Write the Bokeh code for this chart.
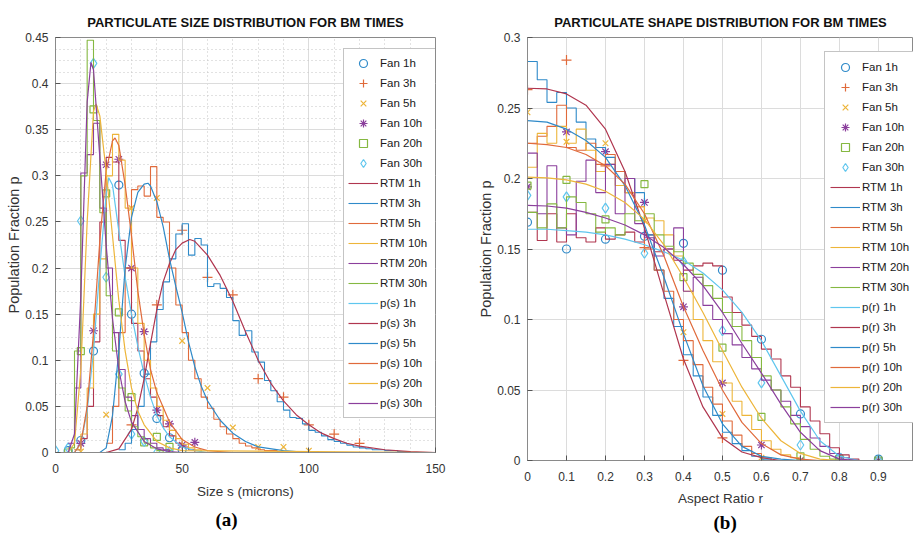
import numpy as np
from bokeh.plotting import figure
from bokeh.layouts import row, column
from bokeh.models import FixedTicker, CustomJSTickFormatter, Legend, LegendItem, Title
from bokeh.embed import file_html
from bokeh.resources import INLINE

TIMES = ["1h", "3h", "5h", "10h", "20h", "30h"]

# MATLAB default colour order (slightly washed, as in the picture)
C = ["#2F8AC9", "#E06A3B", "#EDB53A", "#8B3F9C", "#85B841", "#5FC6EE", "#B0364F"]
FAN_MARKERS = ["circle", "cross", "x", "asterisk", "square", "diamond"]
FAN_SIZES = [8, 10, 8, 9, 7, 10]
FAN_COLORS = [C[0], C[1], C[2], C[3], C[4], C[5]]
RTM_COLORS = [C[6], C[0], C[1], C[2], C[3], C[4]]
CURVE_COLORS = [C[5], C[6], C[0], C[1], C[2], C[3]]

# ---------------- (a) size distribution ----------------
FAN_S_X = [
    [5, 10, 15, 25, 30, 35, 40, 45, 50],
    [30, 40, 50, 60, 70, 80, 90, 100, 110, 120],
    [10, 20, 30, 40, 50, 60, 70, 80, 90, 100],
    [10, 15, 20, 25, 30, 35, 40, 45, 50, 55],
    [5, 10, 15, 20, 25, 30, 35, 40, 45],
    [0, 5, 10, 15, 20, 25, 30, 35, 40, 45],
]
FAN_S_Y = [
    [0.002, 0.013, 0.11, 0.29, 0.15, 0.086, 0.037, 0.016, 0.003],
    [0.03, 0.16, 0.241, 0.19, 0.171, 0.08, 0.06, 0.03, 0.02, 0.01],
    [0.001, 0.041, 0.265, 0.276, 0.121, 0.07, 0.027, 0.006, 0.006, 0.002],
    [0.01, 0.132, 0.312, 0.318, 0.2, 0.131, 0.046, 0.031, 0.008, 0.011],
    [0.0, 0.11, 0.372, 0.281, 0.152, 0.06, 0.011, 0.017, 0.006],
    [0.002, 0.005, 0.251, 0.422, 0.19, 0.085, 0.02, 0.012, 0.0, 0.001],
]
RTM_S_BIN = 2.5
RTM_S_START = [7.5, 25, 20, 7.5, 5, 5]
RTM_S_VALS = [
    [0.003, 0.015, 0.05, 0.12, 0.25, 0.32, 0.315, 0.23, 0.2, 0.14, 0.11, 0.08, 0.06, 0.04,
     0.028, 0.018, 0.01, 0.006, 0.003, 0.0],
    [0.003, 0.01, 0.025, 0.05, 0.085, 0.12, 0.155, 0.185, 0.21, 0.237, 0.248, 0.214, 0.232,
     0.225, 0.18, 0.183, 0.178, 0.168, 0.143, 0.127, 0.132, 0.109, 0.098, 0.078, 0.067, 0.055,
     0.046, 0.038, 0.037, 0.031, 0.024, 0.022, 0.018, 0.014, 0.012, 0.01, 0.008, 0.006, 0.005,
     0.004, 0.003, 0.003, 0.002, 0.002, 0.001, 0.001, 0.0],
    [0.01, 0.05, 0.13, 0.2, 0.285, 0.289, 0.278, 0.31, 0.255, 0.25, 0.2, 0.16, 0.13, 0.1, 0.08,
     0.06, 0.048, 0.036, 0.028, 0.02, 0.015, 0.01, 0.007, 0.005, 0.003, 0.002, 0.002, 0.001, 0.0],
    [0.003, 0.02, 0.07, 0.15, 0.21, 0.3, 0.345, 0.317, 0.265, 0.2, 0.14, 0.1, 0.07, 0.05, 0.035,
     0.024, 0.015, 0.009, 0.005, 0.003, 0.0],
    [0.01, 0.07, 0.303, 0.323, 0.357, 0.265, 0.2, 0.13, 0.09, 0.06, 0.04, 0.025, 0.015, 0.01,
     0.005, 0.003, 0.0],
    [0.005, 0.11, 0.3, 0.447, 0.36, 0.26, 0.17, 0.11, 0.07, 0.045, 0.028, 0.017, 0.01, 0.005,
     0.002, 0.0],
]
PS_X = [
    [0, 7.5, 10, 12.5, 15, 17.5, 20, 21, 22.5, 25, 27.5, 30, 32.5, 35, 37.5, 40, 42.5, 45, 50, 55, 60, 150],
    [0, 20, 25, 30, 32.5, 35, 37.5, 40, 42.5, 45, 47.5, 50, 53, 55, 60, 65, 70, 75, 80, 85, 90, 95,
     100, 105, 110, 115, 120, 130, 140, 150],
    [0, 17.5, 20, 22.5, 25, 27.5, 30, 32.5, 35, 36.5, 37.5, 40, 42.5, 45, 47.5, 50, 52.5, 55, 57.5,
     60, 65, 70, 75, 80, 90, 100, 150],
    [0, 7.5, 10, 12.5, 15, 17.5, 20, 22.5, 23.5, 25, 27.5, 30, 32.5, 35, 37.5, 40, 45, 50, 55, 60, 70, 150],
    [0, 5, 7.5, 10, 12.5, 15, 16, 17.5, 20, 22.5, 25, 27.5, 30, 32.5, 35, 40, 45, 50, 150],
    [0, 5, 7.5, 10, 12.5, 14, 15, 17.5, 20, 22.5, 25, 27.5, 30, 35, 40, 45, 50, 150],
]
PS_Y = [
    [0, 0.0, 0.01, 0.045, 0.11, 0.2, 0.28, 0.298, 0.29, 0.24, 0.19, 0.15, 0.115, 0.085, 0.06,
     0.04, 0.027, 0.017, 0.006, 0.002, 0.0, 0.0],
    [0, 0.0, 0.004, 0.025, 0.048, 0.08, 0.118, 0.155, 0.185, 0.205, 0.22, 0.227, 0.231, 0.229,
     0.214, 0.192, 0.164, 0.131, 0.1, 0.075, 0.056, 0.041, 0.03, 0.021, 0.015, 0.01, 0.007,
     0.003, 0.001, 0.0],
    [0, 0.0, 0.005, 0.04, 0.11, 0.2, 0.255, 0.282, 0.291, 0.292, 0.289, 0.272, 0.245, 0.21, 0.18,
     0.152, 0.12, 0.093, 0.072, 0.056, 0.035, 0.021, 0.012, 0.006, 0.002, 0.0, 0.0],
    [0, 0.0, 0.01, 0.05, 0.13, 0.23, 0.305, 0.338, 0.341, 0.333, 0.29, 0.235, 0.175, 0.128, 0.09,
     0.065, 0.033, 0.014, 0.006, 0.002, 0.0, 0.0],
    [0, 0.0, 0.01, 0.09, 0.25, 0.37, 0.378, 0.365, 0.305, 0.235, 0.165, 0.11, 0.07, 0.045, 0.03,
     0.012, 0.005, 0.002, 0.0],
    [0, 0.0, 0.02, 0.17, 0.38, 0.423, 0.415, 0.32, 0.225, 0.145, 0.09, 0.055, 0.033, 0.012,
     0.004, 0.001, 0.0, 0.0],
]
SIZE_X_TICKS = [0, 50, 100, 150]
SIZE_X_MINOR = [10, 20, 30, 40, 60, 70, 80, 90, 110, 120, 130, 140]
SIZE_Y_TICKS = [0, 0.05, 0.1, 0.15, 0.2, 0.25, 0.3, 0.35, 0.4, 0.45]

# ---------------- (b) shape distribution ----------------
FAN_R_X = [0, 0.1, 0.2, 0.3, 0.4, 0.5, 0.6, 0.7, 0.8, 0.9]
FAN_R_Y = [
    [0.169, 0.150, 0.157, 0.159, 0.154, 0.135, 0.086, 0.033, 0.002, 0.001],
    [0.263, 0.284, 0.209, 0.151, 0.071, 0.016, 0.0, 0.0, 0.0, 0.0],
    [0.247, 0.226, 0.225, 0.17, 0.091, 0.033, 0.002, 0.0, 0.0, 0.0],
    [0.194, 0.233, 0.219, 0.183, 0.109, 0.055, 0.011, 0.0, 0.0, 0.0],
    [0.195, 0.199, 0.171, 0.196, 0.13, 0.080, 0.031, 0.003, 0.001, 0.0],
    [0.188, 0.187, 0.179, 0.147, 0.141, 0.092, 0.055, 0.011, 0.002, 0.0],
]
RTM_R_BIN = 0.025
RTM_R_START = [0, 0, 0, 0, 0, 0]
RTM_R_VALS = [
    [0.176, 0.156, 0.175, 0.155, 0.175, 0.158, 0.155, 0.165, 0.157, 0.16, 0.162, 0.155, 0.16,
     0.148, 0.15, 0.142, 0.135, 0.138, 0.14, 0.138, 0.116, 0.105, 0.096, 0.088, 0.079, 0.072,
     0.06, 0.052, 0.038, 0.028, 0.019, 0.009, 0.004, 0.001, 0.0],
    [0.283, 0.27, 0.254, 0.261, 0.25, 0.24, 0.228, 0.222, 0.215, 0.205, 0.2, 0.19, 0.16, 0.135,
     0.115, 0.095, 0.075, 0.06, 0.045, 0.032, 0.02, 0.012, 0.007, 0.003, 0.001, 0.0],
    [0.225, 0.23, 0.237, 0.252, 0.222, 0.22, 0.225, 0.21, 0.217, 0.205, 0.19, 0.18, 0.15, 0.135,
     0.12, 0.1, 0.085, 0.068, 0.052, 0.04, 0.028, 0.018, 0.01, 0.005, 0.002, 0.0],
    [0.208, 0.232, 0.225, 0.237, 0.225, 0.235, 0.22, 0.205, 0.21, 0.195, 0.19, 0.18, 0.172, 0.17,
     0.16, 0.145, 0.12, 0.1, 0.085, 0.07, 0.055, 0.042, 0.032, 0.022, 0.014, 0.008, 0.004, 0.002, 0.0],
    [0.218, 0.175, 0.209, 0.165, 0.16, 0.198, 0.213, 0.19, 0.21, 0.175, 0.2, 0.168, 0.158, 0.145,
     0.15, 0.165, 0.12, 0.13, 0.11, 0.1, 0.09, 0.082, 0.073, 0.065, 0.057, 0.05, 0.042, 0.032,
     0.024, 0.016, 0.01, 0.005, 0.002, 0.0],
    [0.176, 0.165, 0.182, 0.165, 0.187, 0.183, 0.175, 0.162, 0.165, 0.16, 0.175, 0.17, 0.175,
     0.16, 0.152, 0.148, 0.14, 0.132, 0.124, 0.115, 0.105, 0.095, 0.085, 0.073, 0.06, 0.05,
     0.038, 0.026, 0.015, 0.008, 0.003, 0.001, 0.0],
]
PR_X = [
    [0, 0.05, 0.1, 0.15, 0.2, 0.25, 0.3, 0.35, 0.4, 0.45, 0.5, 0.55, 0.6, 0.65, 0.7, 0.75, 0.8, 0.85, 1.0],
    [0, 0.05, 0.1, 0.15, 0.2, 0.25, 0.3, 0.35, 0.4, 0.45, 0.5, 0.55, 0.6, 0.65, 1.0],
    [0, 0.05, 0.1, 0.15, 0.2, 0.25, 0.3, 0.35, 0.4, 0.45, 0.5, 0.55, 0.6, 0.65, 0.7, 1.0],
    [0, 0.05, 0.1, 0.15, 0.2, 0.25, 0.3, 0.35, 0.4, 0.45, 0.5, 0.55, 0.6, 0.65, 0.7, 0.75, 1.0],
    [0, 0.05, 0.1, 0.15, 0.2, 0.25, 0.3, 0.35, 0.4, 0.45, 0.5, 0.55, 0.6, 0.65, 0.7, 0.75, 0.8, 1.0],
    [0, 0.05, 0.1, 0.15, 0.2, 0.25, 0.3, 0.35, 0.4, 0.45, 0.5, 0.55, 0.6, 0.65, 0.7, 0.75, 0.8, 0.85, 1.0],
]
PR_Y = [
    [0.164, 0.164, 0.163, 0.162, 0.16, 0.157, 0.153, 0.148, 0.142, 0.133, 0.121, 0.105, 0.085,
     0.06, 0.035, 0.014, 0.003, 0.0, 0.0],
    [0.264, 0.2635, 0.26, 0.252, 0.235, 0.205, 0.165, 0.118, 0.072, 0.038, 0.016, 0.006, 0.002, 0.0, 0.0],
    [0.241, 0.24, 0.235, 0.227, 0.215, 0.195, 0.167, 0.13, 0.09, 0.053, 0.026, 0.01, 0.003, 0.001, 0.0, 0.0],
    [0.225, 0.224, 0.222, 0.217, 0.209, 0.196, 0.175, 0.145, 0.109, 0.078, 0.05, 0.027, 0.012,
     0.004, 0.001, 0.0, 0.0],
    [0.201, 0.2005, 0.199, 0.196, 0.191, 0.183, 0.171, 0.153, 0.13, 0.105, 0.078, 0.052, 0.03,
     0.014, 0.005, 0.001, 0.0, 0.0],
    [0.181, 0.1805, 0.179, 0.176, 0.172, 0.167, 0.16, 0.151, 0.139, 0.124, 0.105, 0.083, 0.062,
     0.04, 0.02, 0.007, 0.001, 0.0, 0.0],
]
SHAPE_X_TICKS = [0, 0.1, 0.2, 0.3, 0.4, 0.5, 0.6, 0.7, 0.8, 0.9]
SHAPE_Y_TICKS = [0, 0.05, 0.1, 0.15, 0.2, 0.25, 0.3]

FONT = "Liberation Sans"
FMT = "return String(Math.round(tick*10000)/10000)"


def build(title, xlabel, curve_prefix, x_end, y_end, xticks, xminor, yticks, yminor,
          fan_x, fan_y, rtm_start, rtm_bin, rtm_vals, cx, cy, tag, tag_offset,
          width, left, right, bottom, minor_grid, leg_loc, leg_label_w, leg_pad,
          label_standoff, tag_standoff):
    p = figure(width=width, height=537, x_range=(0, x_end), y_range=(0, y_end),
               output_backend="svg", toolbar_location=None,
               min_border_left=left, min_border_right=right, min_border_top=37,
               min_border_bottom=bottom, background_fill_color="white",
               border_fill_color="white")
    p.title.text = title
    p.title.align = "center"
    p.title.text_font = FONT
    p.title.text_font_style = "bold"
    p.title.text_font_size = "13px"
    p.title.text_color = "#111111"
    p.title.standoff = 16

    p.xaxis.ticker = FixedTicker(ticks=xticks, minor_ticks=xminor)
    p.yaxis.ticker = FixedTicker(ticks=yticks, minor_ticks=yminor)
    for ax in (p.xaxis[0], p.yaxis[0]):
        ax.formatter = CustomJSTickFormatter(code=FMT)
        ax.major_tick_in = 5
        ax.major_tick_out = 0
        ax.minor_tick_in = 0
        ax.minor_tick_out = 0
        ax.axis_line_color = "#8a8a8a"
        ax.major_tick_line_color = "#555555"
        ax.major_label_text_font = FONT
        ax.major_label_text_font_size = "12px"
        ax.major_label_text_color = "#333333"
        ax.axis_label_text_font = FONT
        ax.axis_label_text_font_style = "normal"
        ax.axis_label_text_color = "#333333"
    p.xaxis.axis_label_text_font_size = "13.5px"
    p.yaxis.axis_label_text_font_size = "14.5px"
    p.xaxis.axis_label = xlabel
    p.yaxis.axis_label = "Population Fraction p"
    p.xaxis.major_label_standoff = 11
    p.yaxis.major_label_standoff = 7
    p.xaxis.axis_label_standoff = label_standoff
    p.yaxis.axis_label_standoff = 0
    p.outline_line_color = "#8a8a8a"
    p.outline_line_width = 1

    p.grid.grid_line_color = "#dcdcdc"
    p.grid.grid_line_width = 1
    if minor_grid:
        p.grid.minor_grid_line_color = "#c4c4c4"
        p.grid.minor_grid_line_dash = "1 3"
        p.grid.minor_grid_line_width = 1

    fan_r, rtm_r, cur_r = [], [], []
    for i in range(6):
        r = p.scatter(fan_x[i], fan_y[i], marker=FAN_MARKERS[i], size=FAN_SIZES[i],
                      line_color=FAN_COLORS[i], fill_color=None, line_width=1.2)
        fan_r.append(r)
    for i in range(6):
        vals = rtm_vals[i]
        xs = [rtm_start[i] + k * rtm_bin for k in range(len(vals) + 1)] + [x_end]
        ys = list(vals) + [vals[-1], vals[-1]]
        r = p.step(xs, ys, mode="after", line_color=RTM_COLORS[i], line_width=1.1)
        rtm_r.append(r)
    for i in range(6):
        r = p.line(cx[i], cy[i], line_color=CURVE_COLORS[i], line_width=1.2)
        cur_r.append(r)

    items = []
    for i in range(6):
        items.append(LegendItem(label="Fan " + TIMES[i], renderers=[fan_r[i]]))
    for i in range(6):
        items.append(LegendItem(label="RTM " + TIMES[i], renderers=[rtm_r[i]]))
    for i in range(6):
        items.append(LegendItem(label=curve_prefix + " " + TIMES[i], renderers=[cur_r[i]]))
    leg = Legend(items=items, location=leg_loc, spacing=0, padding=leg_pad,
                 glyph_width=30, glyph_height=20, label_height=20,
                 label_width=leg_label_w, label_standoff=2, margin=0,
                 label_text_font=FONT, label_text_font_size="11.5px",
                 label_text_color="#1a1a1a",
                 border_line_color="#8a8a8a", border_line_width=1,
                 background_fill_color="white", background_fill_alpha=1.0)
    p.add_layout(leg)

    t = Title(text=tag, align="left", offset=tag_offset, standoff=tag_standoff,
              text_font="Liberation Serif", text_font_style="bold",
              text_font_size="19px", text_color="#000000")
    p.add_layout(t, "below")
    return p


y_minor_a = [round(k * 0.0125, 4) for k in range(37)]
pa = build("PARTICULATE SIZE DISTRIBUTION FOR BM TIMES", "Size s (microns)", "p(s)",
           150, 0.45, SIZE_X_TICKS, SIZE_X_MINOR, SIZE_Y_TICKS, y_minor_a,
           FAN_S_X, FAN_S_Y, RTM_S_START, RTM_S_BIN, RTM_S_VALS, PS_X, PS_Y,
           "(a)", 160, 456, 55, 21, 85, True, (288, 34), 52, 4, 8, 10)

pb = build("PARTICULATE SHAPE DISTRIBUTION FOR BM TIMES", "Aspect Ratio r", "p(r)",
           0.99, 0.3, SHAPE_X_TICKS, [], SHAPE_Y_TICKS, [],
           [FAN_R_X] * 6, FAN_R_Y, RTM_R_START, RTM_R_BIN, RTM_R_VALS, PR_X, PR_Y,
           "(b)", 186, 457, 71, 0, 77, False, (297, 37), 49, 5, 7, 3)

layout = row(column(pa), column(pb), spacing=0)
open("out.html", "w").write(file_html(layout, INLINE))
